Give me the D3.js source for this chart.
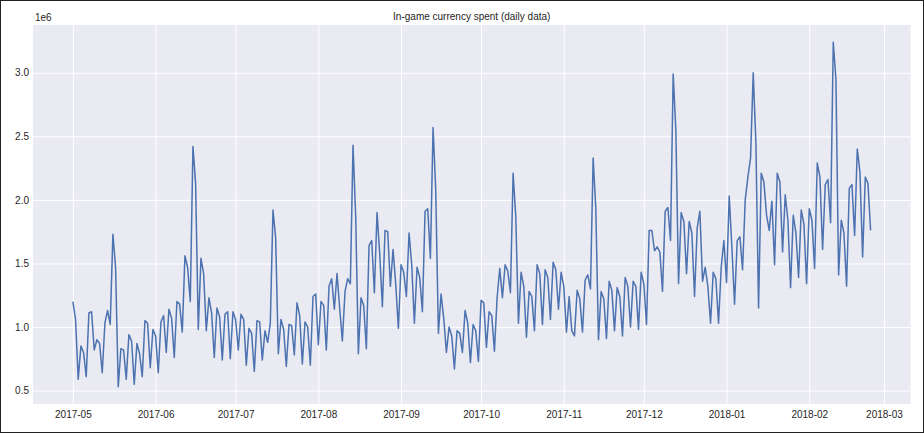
<!DOCTYPE html>
<html>
<head>
<meta charset="utf-8">
<script src="https://cdn.jsdelivr.net/npm/d3@7"></script>
<style>
  html, body { margin: 0; padding: 0; background: #ffffff; }
  svg { display: block; font-family: "Liberation Sans", Arial, sans-serif; }
</style>
</head>
<body>
<svg id="chart" width="924" height="433"></svg>
<script>
// ---- data (values in units of 1e6) ----
const startDate = "2017-05-01";
const spent = [
  1.20, 1.06, 0.59, 0.85, 0.80, 0.61, 1.11, 1.12, 0.82, 0.90, 0.87, 0.64, 1.03, 1.13, 1.02, 1.73, 1.47, 0.53, 0.83, 0.82, 0.59, 0.94, 0.89,
  0.55, 0.87, 0.79, 0.61, 1.05, 1.03, 0.68, 0.98, 0.93, 0.64, 1.04, 1.09, 0.80, 1.14, 1.07, 0.76, 1.20, 1.18, 0.96, 1.56, 1.47, 1.20, 2.42, 2.13, 0.98,
  1.54, 1.42, 0.97, 1.23, 1.11, 0.76, 1.15, 1.08, 0.74, 1.10, 1.12, 0.75, 1.12, 1.06, 0.82, 1.10, 1.06, 0.70, 0.99, 0.95, 0.65, 1.05, 1.04, 0.74, 0.97, 0.88,
  1.03, 1.92, 1.70, 0.79, 1.06, 0.98, 0.69, 1.02, 1.01, 0.78, 1.19, 1.09, 0.71, 1.04, 1.00, 0.70, 1.24, 1.26, 0.86, 1.20, 1.17, 0.82, 1.32, 1.38, 1.14,
  1.42, 1.15, 0.89, 1.28, 1.38, 1.34, 2.43, 1.87, 0.79, 1.23, 1.17, 0.83, 1.64, 1.68, 1.27, 1.90, 1.58, 1.16, 1.76, 1.75, 1.32, 1.61, 1.34, 0.99, 1.49, 1.43,
  1.24, 1.74, 1.49, 1.03, 1.47, 1.39, 1.12, 1.91, 1.93, 1.54, 2.57, 2.08, 0.95, 1.26, 1.07, 0.80, 1.00, 0.93, 0.67, 0.97, 0.95, 0.80, 1.13, 1.03, 0.72,
  1.02, 0.97, 0.73, 1.21, 1.19, 0.84, 1.12, 1.09, 0.81, 1.23, 1.46, 1.23, 1.49, 1.44, 1.27, 2.21, 1.87, 1.03, 1.43, 1.32, 0.92, 1.28, 1.24, 0.97, 1.49, 1.42,
  1.02, 1.45, 1.39, 1.06, 1.51, 1.45, 1.14, 1.43, 1.32, 0.96, 1.24, 0.97, 0.93, 1.29, 1.22, 0.96, 1.37, 1.41, 1.30, 2.33, 1.93, 0.90, 1.28, 1.22, 0.91,
  1.36, 1.29, 0.97, 1.31, 1.24, 0.93, 1.39, 1.32, 1.00, 1.36, 1.32, 0.98, 1.43, 1.34, 1.02, 1.76, 1.76, 1.60, 1.63, 1.59, 1.28, 1.91, 1.94, 1.68, 2.99, 2.55,
  1.34, 1.90, 1.83, 1.42, 1.83, 1.74, 1.24, 1.78, 1.91, 1.36, 1.47, 1.32, 1.03, 1.43, 1.38, 1.03, 1.47, 1.68, 1.35, 2.03, 1.63, 1.18, 1.68, 1.71, 1.45,
  2.00, 2.18, 2.33, 3.00, 2.45, 1.15, 2.21, 2.14, 1.88, 1.76, 1.99, 1.49, 2.21, 2.14, 1.59, 2.04, 1.84, 1.31, 1.88, 1.74, 1.39, 1.92, 1.81, 1.34, 1.93, 1.84,
  1.46, 2.29, 2.18, 1.61, 2.12, 2.16, 1.82, 3.24, 2.95, 1.41, 1.84, 1.74, 1.32, 2.09, 2.12, 1.72, 2.40, 2.22, 1.55, 2.18, 2.13, 1.76
];
const yTicks = [0.5, 1.0, 1.5, 2.0, 2.5, 3.0];
const xTickLabels = ["2017-05","2017-06","2017-07","2017-08","2017-09","2017-10","2017-11","2017-12","2018-01","2018-02","2018-03"];
const titleText = "In-game currency spent (daily data)";
const offsetText = "1e6";

// ---- layout ----
const W = 924, H = 433;
const plot = { left: 33, right: 910.5, top: 25, bottom: 404 };
const parse = d3.timeParse("%Y-%m-%d");
const parseMonth = d3.timeParse("%Y-%m");
const t0 = parse(startDate);
const rows = spent.map((v, i) => ({ date: d3.timeDay.offset(t0, i), value: v }));

const xExt = d3.extent(rows, d => d.date);
const xPad = (xExt[1] - xExt[0]) * 0.05;
const x = d3.scaleTime()
  .domain([new Date(+xExt[0] - xPad), new Date(+xExt[1] + xPad)])
  .range([plot.left, plot.right]);
const yExt = d3.extent(rows, d => d.value);
const yPad = (yExt[1] - yExt[0]) * 0.05;
const y = d3.scaleLinear()
  .domain([yExt[0] - yPad, yExt[1] + yPad])
  .range([plot.bottom, plot.top]);

const svg = d3.select("#chart");
svg.append("rect").attr("x", 0).attr("y", 0).attr("width", W).attr("height", H).attr("fill", "#ffffff");

// axes background
svg.append("rect")
  .attr("x", plot.left).attr("y", plot.top)
  .attr("width", plot.right - plot.left).attr("height", plot.bottom - plot.top)
  .attr("fill", "#EAEAF2");

const xTickDates = xTickLabels.map(s => parseMonth(s));

// grid
const gx = d3.axisBottom(x).tickValues(xTickDates).tickSize(-(plot.bottom - plot.top)).tickFormat("");
svg.append("g").attr("transform", `translate(0,${plot.bottom})`).call(gx)
  .call(g => g.select(".domain").remove())
  .call(g => g.selectAll("line").attr("stroke", "#ffffff").attr("stroke-width", 1));
const gy = d3.axisLeft(y).tickValues(yTicks).tickSize(-(plot.right - plot.left)).tickFormat("");
svg.append("g").attr("transform", `translate(${plot.left},0)`).call(gy)
  .call(g => g.select(".domain").remove())
  .call(g => g.selectAll("line").attr("stroke", "#ffffff").attr("stroke-width", 1));

// line
const line = d3.line().x(d => x(d.date)).y(d => y(d.value));
svg.append("path").datum(rows)
  .attr("d", line)
  .attr("fill", "none")
  .attr("stroke", "#4C72B0")
  .attr("stroke-width", 1.5)
  .attr("stroke-linejoin", "round");

// tick labels
const xa = d3.axisBottom(x).tickValues(xTickDates).tickSize(0).tickPadding(7)
  .tickFormat((d, i) => xTickLabels[i]);
svg.append("g").attr("transform", `translate(0,${plot.bottom})`).call(xa)
  .call(g => g.select(".domain").remove())
  .call(g => g.selectAll("text").attr("fill", "#262626").attr("font-size", 10)
    .attr("font-family", "'Liberation Sans', Arial, sans-serif"));
const ya = d3.axisLeft(y).tickValues(yTicks).tickSize(0).tickPadding(4)
  .tickFormat(d3.format(".1f"));
svg.append("g").attr("transform", `translate(${plot.left},0)`).call(ya)
  .call(g => g.select(".domain").remove())
  .call(g => g.selectAll("text").attr("fill", "#262626").attr("font-size", 10)
    .attr("font-family", "'Liberation Sans', Arial, sans-serif"));

// offset text and title
svg.append("text").attr("x", plot.left + 2).attr("y", plot.top - 4)
  .attr("font-size", 10).attr("fill", "#262626").text(offsetText);
svg.append("text").attr("x", (plot.left + plot.right) / 2).attr("y", plot.top - 5)
  .attr("text-anchor", "middle").attr("font-size", 10).attr("fill", "#262626").text(titleText);

// figure frame
svg.append("rect").attr("x", 0.5).attr("y", 0.5).attr("width", W - 1).attr("height", H - 1)
  .attr("fill", "none").attr("stroke", "#222").attr("stroke-width", 1);
</script>
</body>
</html>
